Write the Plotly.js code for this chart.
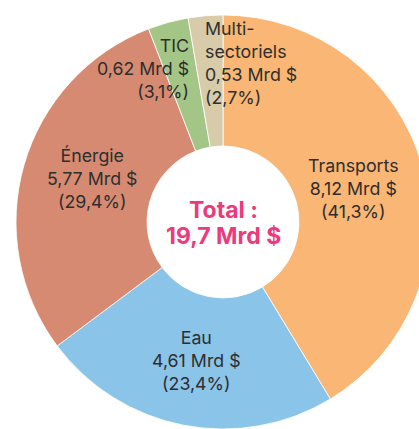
<!DOCTYPE html>
<html>
<head>
<meta charset="utf-8">
<script src="https://cdn.plot.ly/plotly-3.0.1.min.js"></script>
<style>
html,body{margin:0;padding:0;overflow:hidden;background:#fff;width:419px;height:429px;}
#chart{width:440px;height:440px;}
</style>
</head>
<body>
<div id="chart"></div>
<script>
const categories = ["Transports", "Eau", "Énergie", "TIC", "Multi-sectoriels"];
const displayNames = ["Transports", "Eau", "Énergie", "TIC", "Multi-<br>sectoriels"];
const values = [8.12, 4.61, 5.77, 0.62, 0.53];
const percents = [41.3, 23.4, 29.4, 3.1, 2.7];
const colors = ["#FAB674", "#8AC4E8", "#D68A72", "#A3C585", "#D7CBA9"];
const totalLines = ["Total :", "19,7 Mrd $"];

const W = 440, H = 440;
const px = x => x / W;
const py = y => 1 - y / H;
const fr = v => v.toFixed(2).replace('.', ',');
const fp = v => v.toFixed(1).replace('.', ',');

// label placements (pixel positions in window)
const labelPos = [
  {x: 353, y: 188, xa: 'center', al: 'center'},
  {x: 196, y: 360, xa: 'center', al: 'center'},
  {x: 92,  y: 178, xa: 'center', al: 'center'},
  {x: 191, y: 68,  xa: 'right',  al: 'right'},
  {x: 203, y: 63,  xa: 'left',   al: 'left'}
];

const annotations = categories.map((c, i) => ({
  xref: 'paper', yref: 'paper',
  x: px(labelPos[i].x), y: py(labelPos[i].y),
  xanchor: labelPos[i].xa, yanchor: 'middle', align: labelPos[i].al,
  showarrow: false,
  text: displayNames[i] + '<br>' + fr(values[i]) + ' Mrd $<br>(' + fp(percents[i]) + '%)',
  font: {family: 'Inter, "Open Sans", sans-serif', size: 17.8, color: '#2E2E2E'}
}));

const totalY = [209.5, 235.5];
totalLines.forEach((t, i) => annotations.push({
  xref: 'paper', yref: 'paper', x: px(223), y: py(totalY[i]),
  xanchor: 'center', yanchor: 'middle', align: 'center', valign: 'middle',
  showarrow: false, height: 25, borderpad: 0,
  text: '<b>' + t + '</b>',
  font: {family: 'Inter, "Open Sans", sans-serif', size: 23, color: '#EC3A7C'}
}));

const data = [{
  type: 'pie',
  labels: categories,
  values: values,
  sort: false,
  direction: 'clockwise',
  rotation: 0,
  hole: 0.367,
  textinfo: 'none',
  hoverinfo: 'none',
  marker: {colors: colors, line: {color: '#FFFFFF', width: 0.8}},
  domain: {x: [px(16), px(430)], y: [py(429), py(15)]}
}];

const layout = {
  width: W, height: H,
  margin: {l: 0, r: 0, t: 0, b: 0},
  showlegend: false,
  paper_bgcolor: '#FFFFFF',
  annotations: annotations
};

Plotly.newPlot('chart', data, layout, {displayModeBar: false, staticPlot: true});
</script>
</body>
</html>
